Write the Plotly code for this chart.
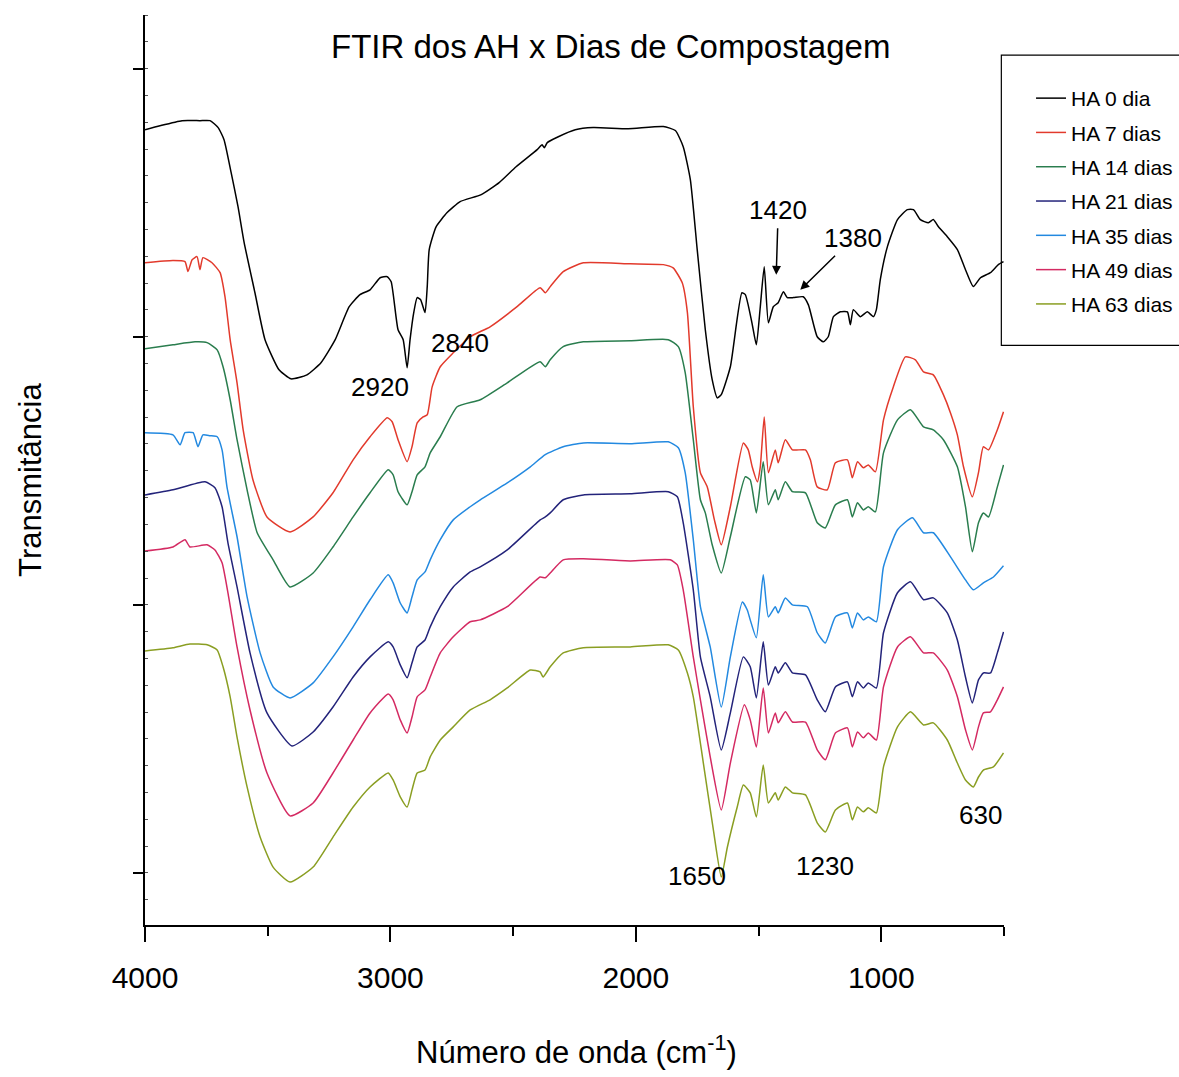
import plotly.graph_objects as go

# ---------------- data (wavenumber cm-1, transmittance a.u.) ----------------
ha0_wn = [4000, 3939, 3849, 3776, 3735, 3702, 3678, 3649, 3621, 3596, 3552, 3511, 3454, 3405, 3340, 3283, 3225,
          3168, 3124, 3083, 3042, 3013, 2997, 2969, 2948, 2932, 2920, 2905, 2891, 2877, 2859, 2850, 2842, 2814,
          2769, 2716, 2630, 2557, 2488, 2402, 2382, 2373, 2361, 2316, 2247, 2174, 2031, 1888, 1839, 1807, 1778,
          1750, 1717, 1689, 1668, 1652, 1615, 1568, 1554, 1527, 1509, 1493, 1477, 1460, 1440, 1420, 1399, 1383,
          1358, 1318, 1297, 1261, 1236, 1216, 1195, 1167, 1138, 1126, 1114, 1085, 1057, 1032, 1020, 1004, 975,
          934, 894, 869, 841, 808, 788, 767, 731, 690, 657, 625, 596, 555, 523, 502]
ha0_t = [27.72, 27.87, 28.06, 28.06, 28.06, 27.80, 27.35, 26.12, 24.85, 23.51, 21.64, 19.89, 18.77, 18.43, 18.58,
         19.03, 19.89, 21.12, 21.57, 21.75, 22.20, 22.24, 22.05, 20.26, 19.89, 18.84, 19.89, 20.90, 21.46, 21.38,
         20.90, 21.87, 23.25, 24.10, 24.63, 25.04, 25.30, 25.75, 26.34, 26.98, 27.16, 27.05, 27.24, 27.46, 27.72,
         27.80, 27.76, 27.84, 27.69, 27.09, 25.86, 23.25, 20.26, 18.40, 17.72, 17.84, 18.88, 21.64, 21.57, 20.52,
         19.70, 21.12, 22.61, 20.52, 21.12, 21.27, 21.68, 21.46, 21.46, 21.49, 21.19, 20.00, 19.81, 20.00, 20.75,
         20.93, 20.93, 20.45, 21.01, 20.75, 20.93, 20.75, 21.01, 22.13, 23.36, 24.37, 24.74, 24.74, 24.37, 24.25,
         24.37, 24.10, 23.73, 23.25, 22.50, 21.87, 22.20, 22.39, 22.69, 22.80]

ha7_wn = [4000, 3886, 3837, 3825, 3808, 3788, 3776, 3764, 3727, 3694, 3674, 3653, 3625, 3600, 3560, 3503, 3409,
          3315, 3234, 3152, 3083, 3013, 2993, 2969, 2932, 2912, 2891, 2867, 2850, 2830, 2797, 2744, 2675, 2594,
          2484, 2390, 2369, 2349, 2296, 2214, 2023, 1888, 1848, 1811, 1790, 1766, 1737, 1709, 1680, 1652, 1615,
          1562, 1542, 1526, 1505, 1493, 1477, 1460, 1432, 1420, 1391, 1362, 1309, 1289, 1261, 1220, 1187, 1138,
          1118, 1097, 1073, 1053, 1024, 991, 951, 902, 861, 828, 788, 747, 718, 690, 665, 629, 604, 584, 563,
          527, 502]
ha7_t = [22.76, 22.84, 22.80, 22.43, 22.87, 22.99, 22.50, 22.95, 22.76, 22.39, 21.49, 19.89, 18.28, 16.53, 14.66,
         13.28, 12.72, 13.28, 14.18, 15.41, 16.27, 16.98, 16.83, 16.16, 15.34, 15.90, 16.79, 17.01, 17.09, 18.13,
         18.88, 19.40, 20.00, 20.37, 21.12, 21.83, 21.64, 21.87, 22.43, 22.76, 22.72, 22.69, 22.57, 22.01, 20.90,
         17.39, 14.93, 14.40, 13.17, 12.24, 13.66, 16.04, 15.78, 15.15, 14.59, 15.15, 17.01, 14.93, 15.78, 15.30,
         16.16, 15.78, 15.78, 15.41, 14.40, 14.29, 15.30, 15.41, 14.74, 15.34, 15.11, 15.22, 14.96, 16.90, 18.13,
         19.25, 19.14, 18.69, 18.58, 17.84, 17.16, 16.34, 15.15, 14.03, 14.93, 15.90, 15.78, 16.53, 17.20]

ha14_wn = [4000, 3886, 3796, 3747, 3706, 3682, 3653, 3625, 3584, 3543, 3478, 3409, 3315, 3234, 3152, 3083, 3009,
           2989, 2969, 2932, 2912, 2891, 2859, 2838, 2797, 2728, 2634, 2524, 2390, 2369, 2349, 2296, 2214, 2023,
           1868, 1827, 1799, 1766, 1737, 1717, 1689, 1652, 1615, 1554, 1534, 1509, 1481, 1460, 1432, 1420, 1391,
           1362, 1309, 1261, 1228, 1187, 1138, 1118, 1097, 1073, 1053, 1024, 991, 934, 881, 828, 788, 747, 690,
           657, 629, 604, 584, 563, 527, 502]
ha14_t = [19.55, 19.70, 19.81, 19.78, 19.51, 18.88, 17.65, 16.16, 14.29, 12.69, 11.68, 10.67, 11.19, 12.16, 13.28,
          14.18, 15.04, 14.85, 14.22, 13.73, 14.22, 14.85, 15.15, 15.67, 16.27, 17.39, 17.65, 18.28, 19.07, 18.88,
          19.14, 19.63, 19.81, 19.85, 19.89, 19.63, 18.66, 16.16, 13.92, 13.43, 12.24, 11.19, 12.54, 14.78, 14.66,
          13.43, 15.34, 13.73, 14.29, 13.92, 14.59, 14.22, 14.18, 13.06, 12.87, 13.73, 13.92, 13.28, 13.81, 13.54,
          13.66, 13.47, 15.67, 16.90, 17.28, 16.64, 16.53, 16.16, 15.15, 13.66, 11.98, 13.06, 13.43, 13.28, 14.40,
          15.22]

ha21_wn = [4000, 3886, 3755, 3715, 3686, 3662, 3625, 3572, 3503, 3401, 3315, 3234, 3152, 3083, 3009, 2989, 2960,
           2932, 2912, 2891, 2859, 2838, 2797, 2744, 2675, 2634, 2524, 2390, 2369, 2349, 2296, 2214, 2023, 1868,
           1831, 1807, 1766, 1737, 1697, 1652, 1615, 1562, 1534, 1509, 1481, 1460, 1432, 1420, 1391, 1362, 1309,
           1261, 1228, 1187, 1138, 1118, 1097, 1073, 1053, 1020, 991, 934, 881, 828, 788, 731, 690, 657, 629, 604,
           584, 555, 527, 502]
ha21_t = [14.10, 14.29, 14.59, 14.37, 13.66, 12.31, 10.67, 8.21, 5.97, 4.74, 5.26, 6.19, 7.31, 8.06, 8.62, 8.43,
          7.76, 7.28, 7.84, 8.43, 8.69, 9.18, 9.93, 10.67, 11.23, 11.42, 12.05, 13.17, 13.28, 13.43, 13.92, 14.10,
          14.14, 14.22, 14.03, 13.06, 10.56, 8.06, 6.57, 4.59, 5.97, 8.06, 7.69, 6.53, 8.62, 7.01, 7.69, 7.46, 7.84,
          7.46, 7.39, 6.46, 6.01, 6.94, 7.13, 6.57, 7.13, 6.90, 7.09, 6.90, 8.96, 10.45, 10.86, 10.19, 10.26, 9.70,
          8.69, 7.31, 6.34, 7.20, 7.46, 7.46, 8.21, 8.99]

ha35_wn = [4000, 3886, 3857, 3837, 3804, 3784, 3764, 3735, 3706, 3686, 3666, 3625, 3584, 3531, 3478, 3409, 3315,
           3234, 3152, 3083, 3009, 2989, 2960, 2932, 2912, 2891, 2859, 2838, 2797, 2744, 2675, 2634, 2524, 2430,
           2369, 2296, 2214, 2023, 1868, 1827, 1799, 1766, 1737, 1697, 1652, 1615, 1566, 1546, 1534, 1509, 1481,
           1460, 1432, 1420, 1391, 1362, 1301, 1261, 1228, 1187, 1138, 1118, 1097, 1073, 1053, 1020, 991, 934, 873,
           828, 788, 718, 657, 625, 584, 543, 502]
ha35_t = [16.42, 16.34, 15.97, 16.42, 16.42, 15.90, 16.34, 16.31, 16.27, 15.78, 14.40, 12.54, 10.30, 8.21, 6.94,
          6.53, 7.09, 8.06, 9.18, 10.19, 11.12, 10.82, 10.07, 9.70, 10.30, 10.93, 11.23, 11.68, 12.43, 13.17, 13.66,
          13.92, 14.55, 15.15, 15.60, 15.90, 16.04, 16.01, 16.08, 15.86, 14.93, 12.43, 9.93, 8.43, 6.19, 8.06,
          10.11, 9.81, 9.44, 8.77, 11.12, 9.55, 9.93, 9.70, 10.26, 10.00, 9.93, 8.96, 8.58, 9.55, 9.70, 9.14, 9.70,
          9.44, 9.55, 9.37, 11.42, 12.80, 13.25, 12.69, 12.69, 11.79, 10.93, 10.56, 10.82, 11.04, 11.46]

ha49_wn = [4000, 3886, 3837, 3817, 3747, 3715, 3686, 3662, 3625, 3572, 3503, 3409, 3315, 3234, 3152, 3083, 3009,
           2989, 2960, 2932, 2912, 2891, 2859, 2838, 2797, 2744, 2675, 2634, 2524, 2390, 2369, 2349, 2296, 2214,
           2023, 1860, 1831, 1807, 1766, 1737, 1697, 1652, 1615, 1558, 1534, 1509, 1481, 1460, 1432, 1420, 1391,
           1362, 1309, 1261, 1228, 1187, 1138, 1118, 1097, 1073, 1053, 1020, 991, 934, 881, 828, 788, 731, 690,
           657, 629, 604, 584, 555, 527, 502]
ha49_t = [12.01, 12.16, 12.43, 12.16, 12.24, 12.05, 11.57, 10.45, 8.43, 6.08, 3.73, 2.13, 2.61, 3.73, 4.96, 5.97,
          6.68, 6.46, 5.71, 5.22, 5.82, 6.57, 6.83, 7.31, 8.21, 8.81, 9.37, 9.44, 9.93, 11.04, 11.01, 11.19, 11.68,
          11.72, 11.64, 11.68, 11.49, 10.56, 8.06, 6.46, 4.33, 2.35, 4.10, 6.27, 5.71, 4.70, 6.90, 5.22, 5.97, 5.60,
          6.01, 5.63, 5.63, 4.59, 4.22, 5.22, 5.41, 4.70, 5.26, 5.04, 5.22, 4.96, 6.94, 8.43, 8.81, 8.21, 8.21,
          7.57, 6.57, 5.34, 4.59, 5.45, 5.97, 6.01, 6.46, 6.94]

ha63_wn = [4000, 3886, 3817, 3747, 3706, 3682, 3653, 3625, 3584, 3531, 3478, 3409, 3315, 3234, 3152, 3083, 3009,
           2989, 2960, 2932, 2912, 2891, 2859, 2838, 2797, 2744, 2675, 2594, 2524, 2430, 2390, 2378, 2349, 2296,
           2214, 2023, 1868, 1827, 1790, 1766, 1725, 1684, 1652, 1627, 1587, 1562, 1534, 1509, 1481, 1460, 1432,
           1420, 1391, 1362, 1309, 1261, 1228, 1187, 1138, 1118, 1097, 1073, 1053, 1020, 991, 934, 881, 828, 788,
           731, 690, 657, 625, 604, 584, 543, 502]
ha63_t = [8.28, 8.40, 8.54, 8.51, 8.32, 7.69, 6.57, 5.07, 3.21, 1.34, 0.22, -0.34, 0.22, 1.34, 2.46, 3.21, 3.73,
          3.47, 2.84, 2.46, 3.10, 3.73, 3.84, 4.33, 4.96, 5.45, 6.08, 6.46, 6.90, 7.57, 7.50, 7.31, 7.69, 8.21,
          8.40, 8.43, 8.51, 8.32, 7.46, 6.57, 4.10, 1.60, -0.15, 0.97, 2.46, 3.28, 2.99, 2.09, 4.03, 2.61, 2.99,
          2.72, 3.21, 2.99, 2.91, 1.87, 1.53, 2.35, 2.61, 1.98, 2.46, 2.28, 2.43, 2.24, 3.96, 5.45, 6.01, 5.52,
          5.60, 4.96, 4.10, 3.47, 3.21, 3.58, 3.84, 3.96, 4.48]

series_names = ["HA 0 dia", "HA 7 dias", "HA 14 dias", "HA 21 dias", "HA 35 dias", "HA 49 dias", "HA 63 dias"]
series_colors = ["#000000", "#e23a2c", "#2a7d4e", "#23237a", "#2389e0", "#d42a62", "#8a9e22"]
series_wn = [ha0_wn, ha7_wn, ha14_wn, ha21_wn, ha35_wn, ha49_wn, ha63_wn]
series_t = [ha0_t, ha7_t, ha14_t, ha21_t, ha35_t, ha49_t, ha63_t]

x_ticks = [4000, 3000, 2000, 1000]
x_ticktext = ["4000", "3000", "2000", "1000"]

# plain peak labels: (text, wavenumber, transmittance)
peak_labels = [("2920", 3042, 18.13), ("2840", 2716, 19.78),
               ("1650", 1750, -0.11), ("1230", 1228, 0.26), ("630", 596, 2.16)]
# peak labels with arrows: (text, label wn, label t, arrow-head wn, arrow-head t)
peak_arrow_labels = [("1420", 1420, 24.74, 1428, 22.31), ("1380", 1114, 23.69, 1330, 21.75)]

FONT = "Liberation Sans Narrow, Arial Narrow, Liberation Sans, Arial, sans-serif"

fig = go.Figure()
for i, (name, color, wn, t) in enumerate(zip(series_names, series_colors, series_wn, series_t)):
    fig.add_trace(go.Scatter(x=wn, y=t, mode="lines", name=name, legendgroup=f"g{i}",
                             line=dict(color=color, width=1.5, shape="spline", smoothing=0.5)))

for text, xw, yt in peak_labels:
    fig.add_annotation(x=xw, y=yt, text=text, showarrow=False,
                       font=dict(family=FONT, size=26, color="black"))
for text, lx, ly, hx, hy in peak_arrow_labels:
    fig.add_annotation(x=hx, y=hy, ax=lx, ay=ly, axref="x", ayref="y", text=text,
                       font=dict(family=FONT, size=26, color="black"),
                       showarrow=True, arrowhead=2, arrowsize=1.2, arrowwidth=1.5, arrowcolor="black",
                       standoff=0, startstandoff=2)

fig.add_annotation(xref="paper", yref="paper", x=0.5415, y=0.965, xanchor="center", yanchor="middle",
                   text="FTIR dos AH x Dias de Compostagem",
                   showarrow=False, font=dict(family=FONT, size=33, color="black"))
fig.add_annotation(xref="paper", yref="paper", x=0.502, y=-0.137, xanchor="center", yanchor="middle",
                   text="Número de onda (cm<sup>-1</sup>)",
                   showarrow=False, font=dict(family=FONT, size=31, color="black"))
fig.add_annotation(xref="paper", yref="paper", x=-0.134, y=0.489, xanchor="center", yanchor="middle",
                   text="Transmitância", textangle=-90,
                   showarrow=False, font=dict(family=FONT, size=31, color="black"))

# legend frame (extends past the right edge, as in the reference)
fig.add_shape(type="rect", xref="paper", yref="paper", x0=0.9969, x1=1.23, y0=0.637, y1=0.956,
              line=dict(color="black", width=1.2), fillcolor="white", layer="below")

fig.update_layout(
    width=1179, height=1077,
    margin=dict(l=145, r=175, t=15, b=152, autoexpand=False),
    paper_bgcolor="white", plot_bgcolor="white",
    showlegend=True,
    legend=dict(xref="container", yref="container", x=0.8745, y=0.9276, xanchor="left", yanchor="top",
                borderwidth=0, bgcolor="rgba(0,0,0,0)",
                font=dict(family=FONT, size=21, color="black"),
                tracegroupgap=4, itemwidth=30),
    xaxis=dict(range=[4000, 500], showgrid=False, zeroline=False,
               showline=True, linecolor="black", linewidth=2,
               tickmode="array", tickvals=x_ticks, ticktext=x_ticktext,
               ticks="outside", ticklen=15, tickwidth=2, tickcolor="black",
               ticklabelstandoff=10,
               minor=dict(dtick=500, tick0=0, ticks="outside", ticklen=9, tickwidth=2, tickcolor="black"),
               tickfont=dict(family=FONT, size=30, color="black")),
    yaxis=dict(range=[-1.94, 32.0], showgrid=False, zeroline=False,
               showline=True, linecolor="black", linewidth=2,
               tickmode="array", tickvals=[0, 10, 20, 30], showticklabels=False,
               ticks="outside", ticklen=10, tickwidth=2, tickcolor="black",
               minor=dict(dtick=1, tick0=0, ticks="inside", ticklen=3, tickwidth=1, tickcolor="#555")),
)

fig.write_html("out.html")
